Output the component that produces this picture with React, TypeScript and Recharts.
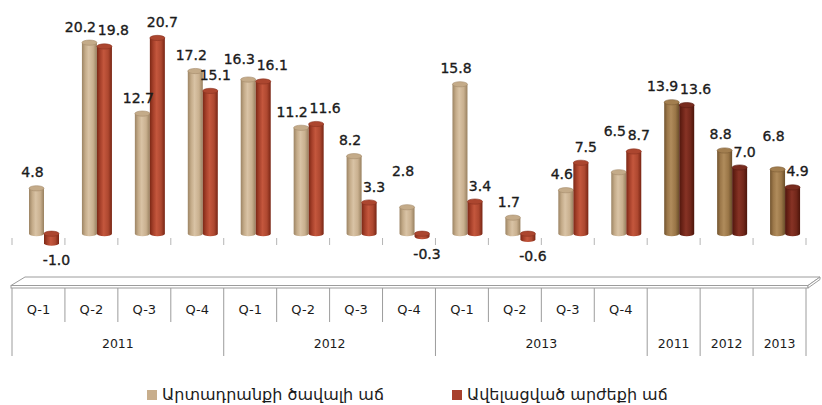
import React from 'react';
import { BarChart, Bar, XAxis, YAxis, LabelList, Legend } from 'recharts';

// ---- data ----
const periodLabels = ['Q-1', 'Q-2', 'Q-3', 'Q-4', 'Q-1', 'Q-2', 'Q-3', 'Q-4', 'Q-1', 'Q-2', 'Q-3', 'Q-4', '', '', ''];
const yearLabels = ['2011', '2011', '2011', '2011', '2012', '2012', '2012', '2012', '2013', '2013', '2013', '2013', '2011', '2012', '2013'];
const outputGrowth = [4.8, 20.2, 12.7, 17.2, 16.3, 11.2, 8.2, 2.8, 15.8, 1.7, 4.6, 6.5, 13.9, 8.8, 6.8];
const valueAddedGrowth = [-1.0, 19.8, 20.7, 15.1, 16.1, 11.6, 3.3, -0.3, 3.4, -0.6, 7.5, 8.7, 13.6, 7.0, 4.9];
const seriesNames = ['Արտադրանքի ծավալի աճ', 'Ավելացված արժեքի աճ'];

const data = periodLabels.map((p, i) => ({
  id: `${i}`,
  period: p,
  year: yearLabels[i],
  output: outputGrowth[i],
  valueAdded: valueAddedGrowth[i],
}));

// ---- layout / style ----
const W = 822;
const H = 405;
const MARGIN = { top: 2, right: 16, bottom: 44, left: 12 };
const PLOT_W = W - MARGIN.left - MARGIN.right;
const BAND = PLOT_W / data.length;
const BAR_W = 15;
const BAR_SHIFT = 6;
const FONT = '"DejaVu Sans", Verdana, sans-serif';
const LINE = '#9c9c9c';
const TEXT = '#1b1b1b';
const LABEL_SIZE = 14;
const LABEL_W = 32;
const LABEL_H = 13;

const palette: any = {
  output: {
    q: { stops: ['#9c8464', '#c4ab89', '#d9c3a5', '#c9b08f', '#98805f'], cap: '#c4ab89', edge: '#a58b6b' },
    a: { stops: ['#72542f', '#9c784a', '#b08c5c', '#9a7647', '#6a4e2a'], cap: '#a27e4f', edge: '#7c5c36' },
  },
  valueAdded: {
    q: { stops: ['#7c2815', '#a6402a', '#c4573d', '#ae4830', '#782514'], cap: '#ac462f', edge: '#8a3320' },
    a: { stops: ['#4f170d', '#6c2317', '#873325', '#72271a', '#4c150b'], cap: '#782b1e', edge: '#5a1c12' },
  },
};

const isAnnual = (i: number) => periodLabels[i] === '';
const isClosePair = (i: number) => Math.abs(outputGrowth[i] - valueAddedGrowth[i]) < 1.6;

function Cylinder(props: any) {
  const { x, y, width, height, index, series } = props;
  if (x == null || y == null) return null;
  const annual = isAnnual(index);
  const c = palette[series][annual ? 'a' : 'q'];
  const top = Math.min(y, y + height);
  const bottom = Math.max(y, y + height);
  const left = x + BAR_SHIFT;
  const w = width;
  const rx = w / 2;
  const ry = 2.6;
  const gid = `cyl-${series}-${annual ? 'a' : 'q'}`;
  return (
    <g>
      <defs>
        <linearGradient id={gid} x1="0" y1="0" x2="1" y2="0">
          <stop offset="0%" stopColor={c.stops[0]} />
          <stop offset="22%" stopColor={c.stops[1]} />
          <stop offset="45%" stopColor={c.stops[2]} />
          <stop offset="75%" stopColor={c.stops[3]} />
          <stop offset="100%" stopColor={c.stops[4]} />
        </linearGradient>
      </defs>
      <path
        d={`M${left},${top} L${left},${bottom} A${rx},${ry} 0 0 0 ${left + w},${bottom} L${left + w},${top} Z`}
        fill={`url(#${gid})`}
      />
      <ellipse cx={left + rx} cy={top} rx={rx} ry={ry} fill={c.cap} stroke={c.edge} strokeWidth={0.6} />
    </g>
  );
}

const labelDx = (series: 'output' | 'valueAdded', i: number) => {
  if (isClosePair(i)) return series === 'output' ? -9 : 9;
  return series === 'output' ? -4 : 5;
};

const makeLabel = (series: 'output' | 'valueAdded') => (props: any) => {
  const { x, y, width, height, index, value } = props;
  if (x == null) return null;
  const top = Math.min(y, y + height);
  const bottom = Math.max(y, y + height);
  const cx = x + BAR_SHIFT + width / 2 + labelDx(series, index);
  let ty = value >= 0 ? top - 11 : bottom + 22;
  // avoid colliding with the previous category's second label
  if (series === 'output' && index > 0 && value > 0 && valueAddedGrowth[index - 1] > 0) {
    const k = Math.abs(height / value);
    const prevVal = valueAddedGrowth[index - 1];
    const prevTy = ty + (value - prevVal) * k;
    const prevCx = x + BAR_SHIFT + width / 2 - BAND + BAR_W + labelDx('valueAdded', index - 1);
    if (Math.abs(cx - prevCx) < LABEL_W && Math.abs(ty - prevTy) < LABEL_H + 1) {
      ty = Math.min(ty, prevTy - (LABEL_H + 3));
    }
  }
  return (
    <text
      x={cx}
      y={ty}
      textAnchor="middle"
      fontFamily={FONT}
      fontSize={LABEL_SIZE}
      fill={TEXT}
      stroke={TEXT}
      strokeWidth={0.35}
    >
      {Number(value).toFixed(1)}
    </text>
  );
};

function groupKey(i: number) {
  return isAnnual(i) ? `A${i}` : `Q${yearLabels[i]}`;
}

function AxisTick(props: any) {
  const { x, y, index } = props;
  const left = x - BAND / 2;
  const right = x + BAND / 2;
  const groupStart = index === 0 || groupKey(index) !== groupKey(index - 1);
  const last = index === data.length - 1;
  const lineTop = y + 7;
  const shortBottom = y + 41;
  const longBottom = y + 75;
  let yearLabel: React.ReactNode = null;
  if (groupStart) {
    let n = 1;
    while (index + n < data.length && groupKey(index + n) === groupKey(index)) n++;
    const cx = left + (n * BAND) / 2;
    yearLabel = (
      <text x={cx} y={y + 67} textAnchor="middle" fontFamily={FONT} fontSize={12.5} fill={TEXT}>
        {yearLabels[index]}
      </text>
    );
  }
  const plotLeft = MARGIN.left;
  const plotRight = W - MARGIN.right;
  return (
    <g>
      {index === 0 && (
        <g>
          <polygon
            points={`${plotLeft - 1},${y + 4.5} ${plotLeft + 13},${y - 4} ${plotRight + 14},${y - 4} ${plotRight + 2},${y + 4.5}`}
            fill="#ffffff"
            stroke={LINE}
            strokeWidth={1}
          />
          <rect x={plotLeft - 1} y={y + 4.5} width={plotRight - plotLeft + 3} height={2.5} fill="#ffffff" stroke={LINE} strokeWidth={1} />
          <polygon
            points={`${plotRight + 2},${y + 4.5} ${plotRight + 14},${y - 4} ${plotRight + 14},${y - 1.5} ${plotRight + 2},${y + 7}`}
            fill="#ffffff"
            stroke={LINE}
            strokeWidth={1}
          />
        </g>
      )}
      {/* zero-line tick marks on back wall */}
      <line x1={left} x2={left} y1={y - 43} y2={y - 36} stroke="#b5b5b5" strokeWidth={1} />
      {last && <line x1={right} x2={right} y1={y - 43} y2={y - 36} stroke="#b5b5b5" strokeWidth={1} />}
      <line x1={left} x2={left} y1={lineTop} y2={groupStart ? longBottom : shortBottom} stroke={LINE} strokeWidth={1} />
      {last && <line x1={right} x2={right} y1={lineTop} y2={longBottom} stroke={LINE} strokeWidth={1} />}
      {periodLabels[index] !== '' && (
        <text x={x} y={y + 33} textAnchor="middle" fontFamily={FONT} fontSize={13} fill={TEXT}>
          {periodLabels[index]}
        </text>
      )}
      {yearLabel}
    </g>
  );
}

const legendColors = ['#c8ae8c', '#a8402c'];

function LegendContent() {
  return (
    <div style={{ display: 'flex', alignItems: 'center', paddingLeft: 147, fontFamily: FONT, fontSize: 16, color: TEXT, lineHeight: '18px' }}>
      {seriesNames.map((n, i) => (
        <div key={n} style={{ display: 'flex', alignItems: 'center', marginRight: 68 }}>
          <span style={{ display: 'inline-block', width: 10, height: 10, background: legendColors[i], marginRight: 5 }} />
          <span style={{ whiteSpace: 'nowrap' }}>{n}</span>
        </div>
      ))}
    </div>
  );
}

export default function App() {
  return (
    <div style={{ position: 'absolute', left: 0, top: 0, width: W, height: H, background: '#fff' }}>
      <BarChart width={W} height={H} data={data} margin={MARGIN} barGap={0} barSize={BAR_W}>
        <XAxis
          dataKey="id"
          axisLine={false}
          tickLine={false}
          tickSize={0}
          tickMargin={0}
          interval={0}
          height={80}
          tick={<AxisTick />}
        />
        <YAxis hide domain={[-5, 24.5]} />
        <Legend
          verticalAlign="middle"
          align="center"
          layout="horizontal"
          wrapperStyle={{ left: 0, top: 386, width: W }}
          content={<LegendContent />}
        />
        <Bar dataKey="output" name={seriesNames[0]} fill="#c8ae8c" isAnimationActive={false} shape={(p: any) => <Cylinder {...p} series="output" />}>
          <LabelList dataKey="output" content={makeLabel('output')} />
        </Bar>
        <Bar dataKey="valueAdded" name={seriesNames[1]} fill="#a8402c" isAnimationActive={false} shape={(p: any) => <Cylinder {...p} series="valueAdded" />}>
          <LabelList dataKey="valueAdded" content={makeLabel('valueAdded')} />
        </Bar>
      </BarChart>
    </div>
  );
}
